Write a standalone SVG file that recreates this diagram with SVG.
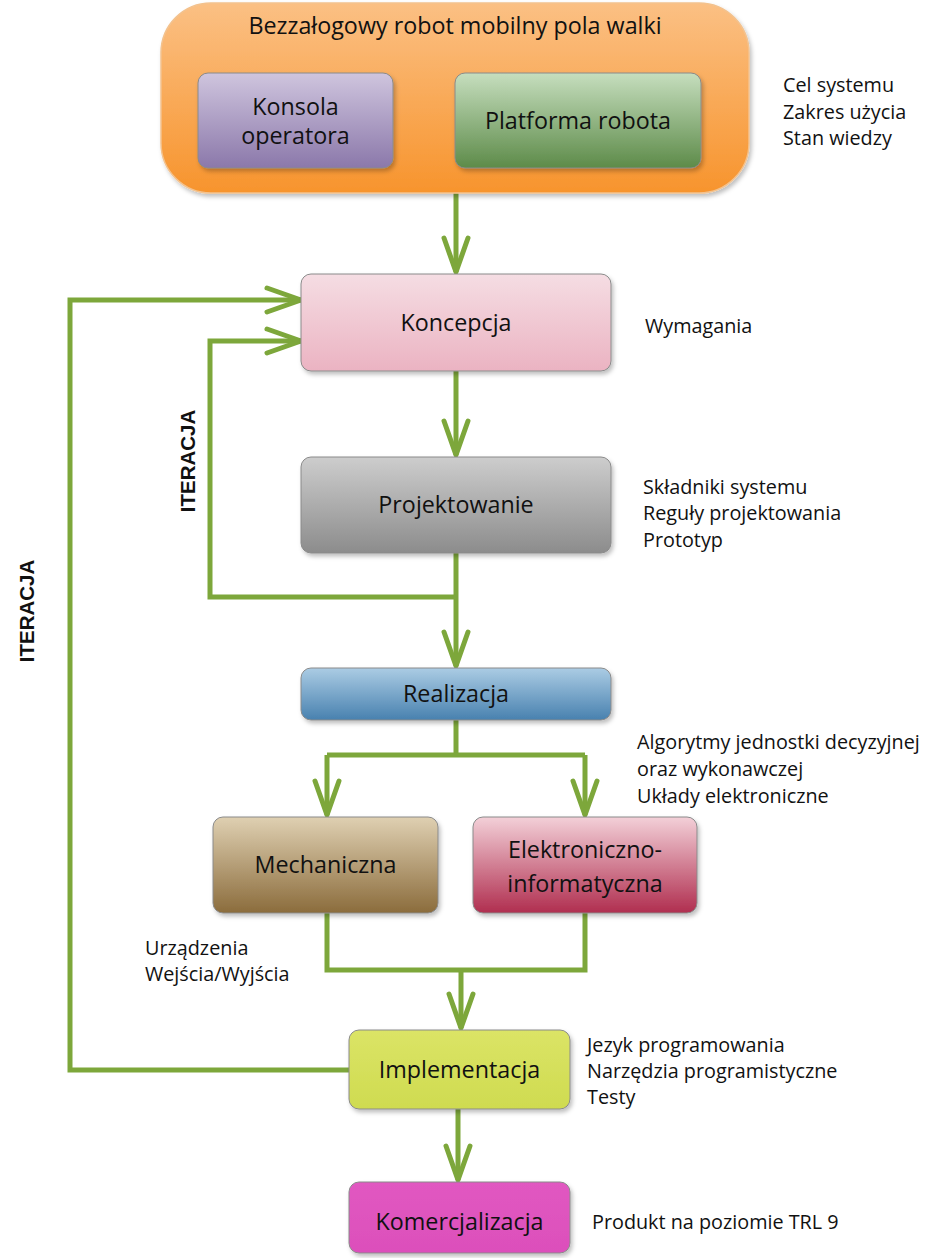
<svg xmlns="http://www.w3.org/2000/svg" width="926" height="1258" viewBox="0 0 926 1258">
<style>
.lbl{font-family:"Open Sans","Noto Sans","Liberation Sans",sans-serif;font-size:23.3px;fill:#111;text-anchor:middle}
.note{font-family:"Open Sans","Noto Sans","Liberation Sans",sans-serif;font-size:19.8px;fill:#111}
.iter{font-family:"Liberation Sans",Arial,sans-serif;font-size:20.5px;font-weight:bold;fill:#111;text-anchor:middle}
.box{stroke:#8a8a8a;stroke-width:1;filter:url(#sh)}
.con{fill:none;stroke:#7da73b;stroke-width:5;stroke-linejoin:miter}
.arr{marker-end:url(#chev)}
</style>
<defs>
<filter id="sh" x="-10%" y="-10%" width="125%" height="130%">
<feDropShadow dx="2" dy="3" stdDeviation="2" flood-color="#000" flood-opacity="0.25"/>
</filter>
<marker id="chev" markerUnits="userSpaceOnUse" viewBox="-40 -16 44 32" refX="0" refY="0" markerWidth="44" markerHeight="32" orient="auto">
<path d="M-34,-12 L0,0 L-34,12" fill="none" stroke="#7da73b" stroke-width="5" stroke-linecap="round" stroke-linejoin="round"/>
</marker>
<linearGradient id="gOr" x1="0" y1="0" x2="0" y2="1"><stop offset="0" stop-color="#fbc084"/><stop offset="1" stop-color="#f7942d"/></linearGradient>
<linearGradient id="gPu" x1="0" y1="0" x2="0" y2="1"><stop offset="0" stop-color="#cfc5de"/><stop offset="1" stop-color="#8b78aa"/></linearGradient>
<linearGradient id="gGr" x1="0" y1="0" x2="0" y2="1"><stop offset="0" stop-color="#c6debe"/><stop offset="1" stop-color="#5d8b49"/></linearGradient>
<linearGradient id="gPk" x1="0" y1="0" x2="0" y2="1"><stop offset="0" stop-color="#f5dde3"/><stop offset="1" stop-color="#ebb3c2"/></linearGradient>
<linearGradient id="gGy" x1="0" y1="0" x2="0" y2="1"><stop offset="0" stop-color="#cdcdcd"/><stop offset="1" stop-color="#8c8c8c"/></linearGradient>
<linearGradient id="gBl" x1="0" y1="0" x2="0" y2="1"><stop offset="0" stop-color="#abcce4"/><stop offset="1" stop-color="#4881af"/></linearGradient>
<linearGradient id="gBr" x1="0" y1="0" x2="0" y2="1"><stop offset="0" stop-color="#dfd0b2"/><stop offset="1" stop-color="#8b6c3c"/></linearGradient>
<linearGradient id="gCr" x1="0" y1="0" x2="0" y2="1"><stop offset="0" stop-color="#f3d0d8"/><stop offset="1" stop-color="#b02e4f"/></linearGradient>
<linearGradient id="gYe" x1="0" y1="0" x2="0" y2="1"><stop offset="0" stop-color="#dbe466"/><stop offset="1" stop-color="#cfdb50"/></linearGradient>
<linearGradient id="gMa" x1="0" y1="0" x2="0" y2="1"><stop offset="0" stop-color="#e158c1"/><stop offset="1" stop-color="#dc4fbb"/></linearGradient>
</defs>

<g id="connectors">
<path class="con arr" d="M456,193 V272"/>
<path class="con arr" d="M456,371 V455"/>
<path class="con" d="M456,553 V597"/>
<path class="con arr" d="M456,597 V666"/>
<path class="con arr" d="M456,597 H210 V341 H301"/>
<path class="con arr" d="M349,1070 H70 V300 H301"/>
<path class="con" d="M456,720 V755"/>
<path class="con" d="M327,755 H585"/>
<path class="con arr" d="M327,755 V815"/>
<path class="con arr" d="M585,755 V815"/>
<path class="con" d="M327,913 V970 H585 V913"/>
<path class="con arr" d="M461,970 V1028"/>
<path class="con arr" d="M458,1109 V1180"/>
</g>

<g id="robot">
<rect x="161" y="3" width="588" height="190" rx="50" fill="url(#gOr)" stroke="#f3c28e" stroke-width="1.5" filter="url(#sh)"/>
<text class="lbl" x="455" y="34">Bezzałogowy robot mobilny pola walki</text>
</g>
<g id="konsola">
<rect class="box" x="198" y="73" width="195" height="95" rx="10" fill="url(#gPu)"/>
<text class="lbl" x="295.5" y="115">Konsola</text>
<text class="lbl" x="295.5" y="144">operatora</text>
</g>
<g id="platforma">
<rect class="box" x="455" y="73" width="246" height="95" rx="10" fill="url(#gGr)"/>
<text class="lbl" x="578" y="129">Platforma robota</text>
</g>
<g id="koncepcja">
<rect class="box" x="301" y="274" width="310" height="97" rx="10" fill="url(#gPk)"/>
<text class="lbl" x="456" y="331">Koncepcja</text>
</g>
<g id="projektowanie">
<rect class="box" x="301" y="457" width="310" height="96" rx="10" fill="url(#gGy)"/>
<text class="lbl" x="456" y="513">Projektowanie</text>
</g>
<g id="realizacja">
<rect class="box" x="301" y="668" width="310" height="52" rx="10" fill="url(#gBl)"/>
<text class="lbl" x="456" y="702">Realizacja</text>
</g>
<g id="mechaniczna">
<rect class="box" x="213" y="817" width="225" height="96" rx="10" fill="url(#gBr)"/>
<text class="lbl" x="325.5" y="873">Mechaniczna</text>
</g>
<g id="elektroniczno">
<rect class="box" x="473" y="817" width="224" height="96" rx="10" fill="url(#gCr)"/>
<text class="lbl" x="585" y="858">Elektroniczno-</text>
<text class="lbl" x="585" y="892">informatyczna</text>
</g>
<g id="implementacja">
<rect class="box" x="349" y="1030" width="221" height="79" rx="10" fill="url(#gYe)"/>
<text class="lbl" x="459.5" y="1078">Implementacja</text>
</g>
<g id="komercjalizacja">
<rect class="box" x="349" y="1182" width="221" height="71" rx="10" fill="url(#gMa)"/>
<text class="lbl" x="459.5" y="1230">Komercjalizacja</text>
</g>

<g id="notes">
<text class="note" x="783" y="92">Cel systemu</text>
<text class="note" x="783" y="119">Zakres użycia</text>
<text class="note" x="783" y="145">Stan wiedzy</text>
<text class="note" x="645" y="333">Wymagania</text>
<text class="note" x="643" y="494">Składniki systemu</text>
<text class="note" x="643" y="520">Reguły projektowania</text>
<text class="note" x="643" y="547">Prototyp</text>
<text class="note" x="637" y="749">Algorytmy jednostki decyzyjnej</text>
<text class="note" x="637" y="776">oraz wykonawczej</text>
<text class="note" x="637" y="803">Układy elektroniczne</text>
<text class="note" x="145" y="955">Urządzenia</text>
<text class="note" x="145" y="981">Wejścia/Wyjścia</text>
<text class="note" x="587" y="1052">Jezyk programowania</text>
<text class="note" x="587" y="1078">Narzędzia programistyczne</text>
<text class="note" x="587" y="1104">Testy</text>
<text class="note" x="592" y="1229">Produkt na poziomie TRL 9</text>
<text class="iter" transform="translate(195,461) rotate(-90)">ITERACJA</text>
<text class="iter" transform="translate(34,611) rotate(-90)">ITERACJA</text>
</g>
</svg>
